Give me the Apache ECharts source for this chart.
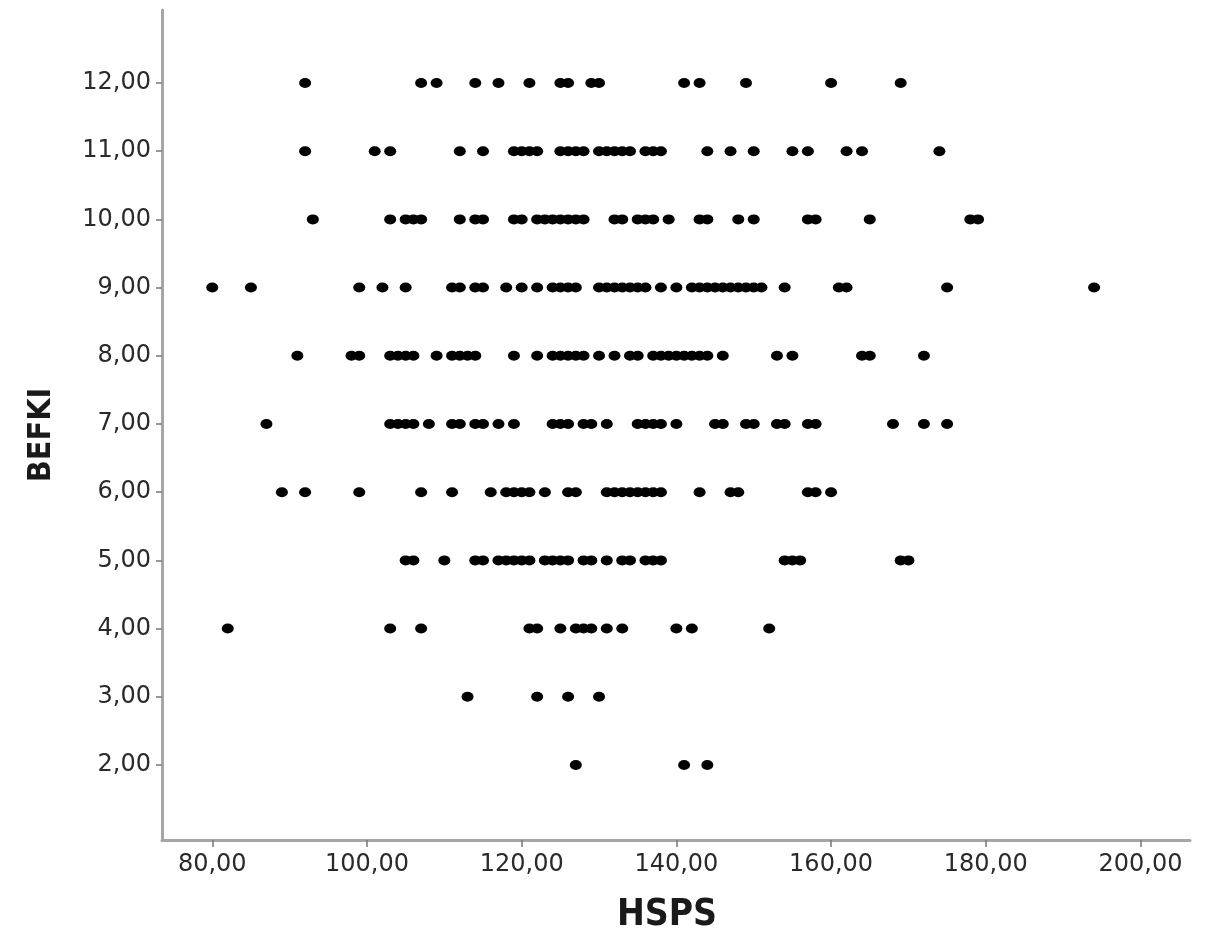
<!DOCTYPE html>
<html>
<head>
<meta charset="utf-8">
<script src="https://cdn.jsdelivr.net/npm/echarts@6/dist/echarts.min.js"></script>
<style>
html,body{margin:0;padding:0;background:#fff;}
#chart{width:1211px;height:939px;}
</style>
</head>
<body>
<div id="chart"></div>
<script>
// HSPS values observed at each BEFKI level
const hspsAt12 = [92,107,109,114,117,121,125,126,129,130,141,143,149,160,169];
const hspsAt11 = [92,101,103,112,115,119,120,121,122,125,126,127,128,130,131,132,133,134,136,137,138,144,147,150,155,157,162,164,174];
const hspsAt10 = [93,103,105,106,107,112,114,115,119,120,122,123,124,125,126,127,128,132,133,135,136,137,139,143,144,148,150,157,158,165,178,179];
const hspsAt9  = [80,85,99,102,105,111,112,114,115,118,120,122,124,125,126,127,130,131,132,133,134,135,136,138,140,142,143,144,145,146,147,148,149,150,151,154,161,162,175,194];
const hspsAt8  = [91,98,99,103,104,105,106,109,111,112,113,114,119,122,124,125,126,127,128,130,132,134,135,137,138,139,140,141,142,143,144,146,153,155,164,165,172];
const hspsAt7  = [87,103,104,105,106,108,111,112,114,115,117,119,124,125,126,128,129,131,135,136,137,138,140,145,146,149,150,153,154,157,158,168,172,175];
const hspsAt6  = [89,92,99,107,111,116,118,119,120,121,123,126,127,131,132,133,134,135,136,137,138,143,147,148,157,158,160];
const hspsAt5  = [105,106,110,114,115,117,118,119,120,121,123,124,125,126,128,129,131,133,134,136,137,138,154,155,156,169,170];
const hspsAt4  = [82,103,107,121,122,125,127,128,129,131,133,140,142,152];
const hspsAt3  = [113,122,126,130];
const hspsAt2  = [127,141,144];

const befkiLevels = [12,11,10,9,8,7,6,5,4,3,2];
const hspsRows = [hspsAt12,hspsAt11,hspsAt10,hspsAt9,hspsAt8,hspsAt7,hspsAt6,hspsAt5,hspsAt4,hspsAt3,hspsAt2];

const xTicks = [80,100,120,140,160,180,200];
const yTicks = [2,3,4,5,6,7,8,9,10,11,12];

const points = [];
befkiLevels.forEach((lvl, i) => hspsRows[i].forEach(x => points.push([x, lvl])));

const fmt = v => Number(v).toFixed(2).replace('.', ',');

const chart = echarts.init(document.getElementById('chart'));
chart.setOption({
  animation: false,
  backgroundColor: '#ffffff',
  grid: { left: 162, right: 21, top: 10, bottom: 97, containLabel: false },
  xAxis: {
    type: 'value',
    min: 73.5, max: 206.4,
    name: 'HSPS',
    nameLocation: 'middle',
    nameGap: 57,
    nameTextStyle: { fontFamily: "'Liberation Sans Narrow', 'DejaVu Sans Condensed', 'Open Sans'", fontSize: 37, fontWeight: 'bold', color: '#1a1a1a', padding: [0, 18, 0, 0] },
    axisLine: { show: true, lineStyle: { color: '#a6a6a6', width: 3 } },
    axisTick: { show: true, customValues: xTicks, length: 7, lineStyle: { color: '#777', width: 1.5 } },
    axisLabel: { customValues: xTicks, formatter: fmt, margin: 13, fontFamily: 'DejaVu Sans', fontSize: 24, color: '#2a2a2a' },
    splitLine: { show: false }
  },
  yAxis: {
    type: 'value',
    min: 0.9, max: 13.07,
    name: 'BEFKI',
    nameLocation: 'middle',
    nameGap: 104,
    nameRotate: 90,
    nameTextStyle: { fontFamily: "'Liberation Sans Narrow', 'DejaVu Sans Condensed', 'Open Sans'", fontSize: 32, fontWeight: 'bold', color: '#1a1a1a', padding: [0, 20, 0, 0] },
    axisLine: { show: true, lineStyle: { color: '#a6a6a6', width: 3 } },
    axisTick: { show: true, customValues: yTicks, length: 6, lineStyle: { color: '#777', width: 1.5 } },
    axisLabel: { customValues: yTicks, formatter: fmt, margin: 11, fontFamily: 'DejaVu Sans', fontSize: 24, color: '#2a2a2a' },
    splitLine: { show: false }
  },
  series: [{
    type: 'scatter',
    data: points,
    symbol: 'circle',
    symbolSize: [12, 10],
    itemStyle: { color: '#000', opacity: 1 }
  }]
});
</script>
</body>
</html>
